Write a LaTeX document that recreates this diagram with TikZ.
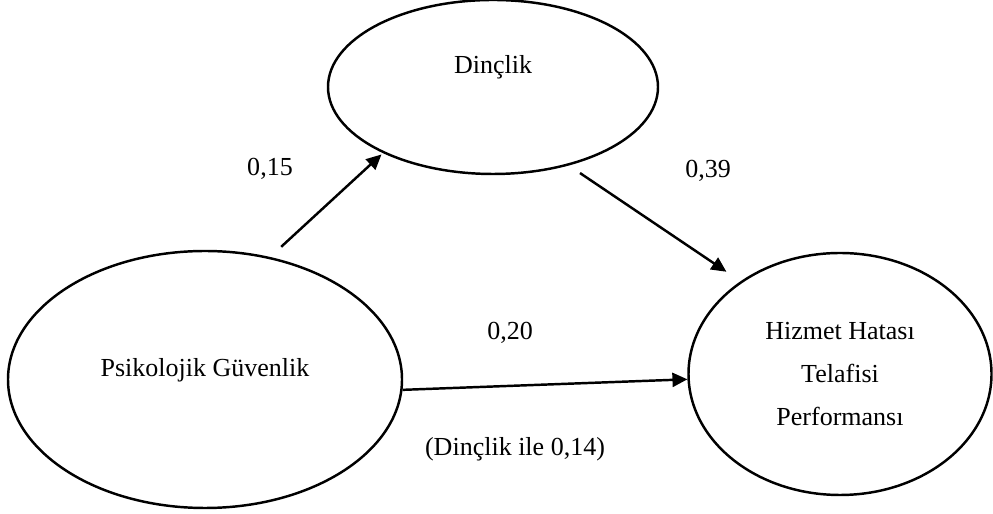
\documentclass[tikz,border=0pt]{standalone}
\usepackage{fontspec}
\setmainfont{Liberation Serif}
\usepackage{tikz}
\usetikzlibrary{shapes, arrows.meta}
\tikzset{>=latex}
\tikzstyle{line} = [draw, -{Triangle[length=0.3cm, width=0.28cm]}, line width=1.4pt]
\tikzstyle{construct} = [draw, ellipse, line width=1.4pt, inner sep=0pt, align=center, font=\fontsize{14.8}{24.5}\selectfont]
\tikzstyle{coef} = [anchor=base, font=\fontsize{14.8}{24.5}\selectfont]

\begin{document}
\begin{tikzpicture}
                \useasboundingbox (0,0) rectangle (19.86,10.28);

                % Create Ellipses
                
                \node [construct, minimum width=6.6cm, minimum height=3.48cm, text height=0.3cm, text depth=0.82cm] (din) at (9.86,8.54) {Dinçlik};
                \node [construct, minimum width=7.88cm, minimum height=5.14cm, text height=0.3cm, text depth=0.42cm] (psi) at (4.10,2.69) {Psikolojik Güvenlik};
                \node [construct, minimum width=6.06cm, minimum height=4.84cm] (hiz) at (16.8,2.80) {Hizmet Hatası\\Telafisi\\Performansı};

                % Add Coefficients
                \node [coef] (c1) at (5.40,6.76) {0,15};
                \node [coef] (c2) at (14.16,6.72) {0,39};
                \node [coef] (c3) at (10.20,3.48) {0,20};
                \node [coef] (c4) at (10.30,1.16) {(Dinçlik ile 0,14)};
                
                % Add Arrows
                \path [line, shorten <=0.3cm, shorten >=0.04cm] (psi.62) -- (din.211);
                \path [line, shorten <=0.27cm, shorten >=0.34cm] (din.314) -- (hiz.137);
                \path [line] (psi.357) -- (hiz.182);
            \end{tikzpicture}
\end{document}
